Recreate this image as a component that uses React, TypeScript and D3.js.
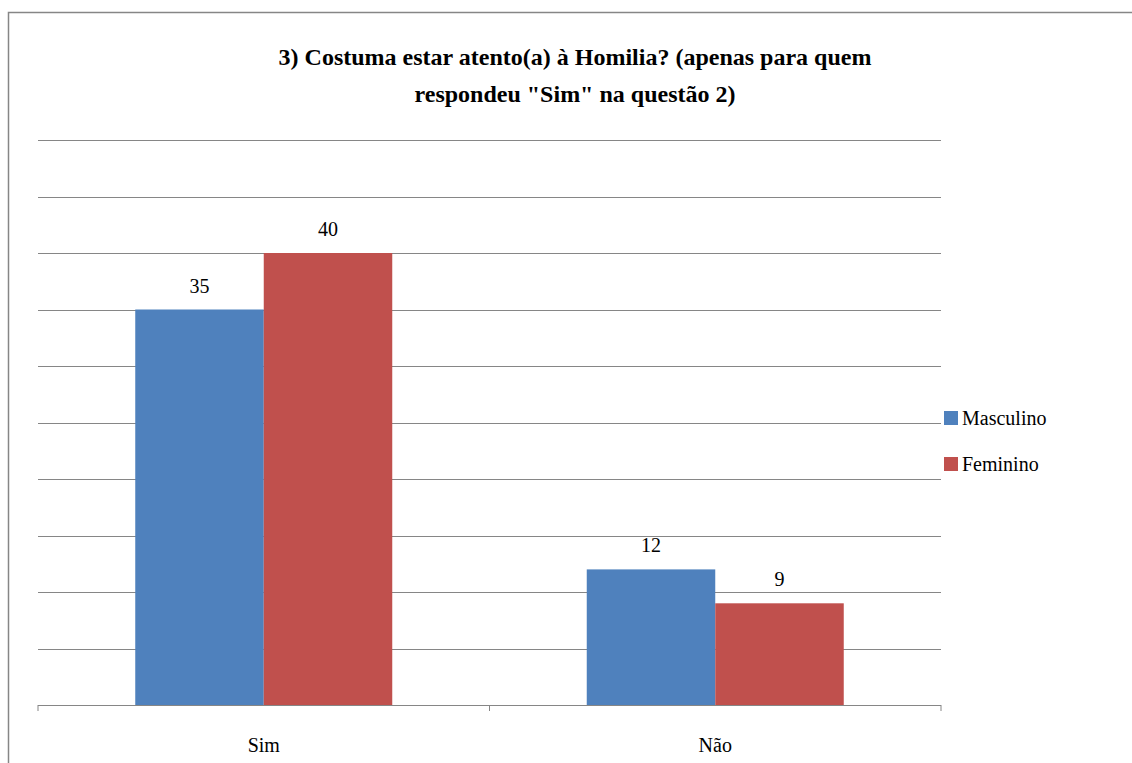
import React from "react";
import * as d3 from "d3";

const categories = ["Sim", "Não"];
const seriesNames = ["Masculino", "Feminino"];
const masculino = [35, 12];
const feminino = [40, 9];
const gridTicks = [0, 5, 10, 15, 20, 25, 30, 35, 40, 45, 50];
const colors = ["#4F81BD", "#C0504D"];
const titleLines = ["3) Costuma estar atento(a) à Homilia? (apenas para quem", 'respondeu "Sim" na questão 2)'];

const W = 1132;
const H = 763;
const plot = { left: 38, right: 941, top: 140, bottom: 705 };

export default function App() {
  const x = d3.scaleBand<string>().domain(categories).range([plot.left, plot.right]);
  const y = d3.scaleLinear().domain([0, 50]).range([plot.bottom, plot.top]);
  const values = [masculino, feminino];
  const barW = 128.5;
  const gridColor = "#868686";
  const ts = { fontFamily: '"Times New Roman"' };

  return (
    <div style={{ position: "absolute", left: 0, top: 0, width: W, height: H, fontFamily: '"Times New Roman"' }}>
      <style>{`svg text { font-family: "Times New Roman", "Liberation Serif", serif !important; }`}</style>
      <svg width={W} height={H} style={{ display: "block", background: "#fff" }}>
        <rect x={8.5} y={12.5} width={1140} height={800} fill="#fff" stroke={gridColor} strokeWidth={1.5} />
        {titleLines.map((t, i) => (
          <text key={i} x={575} y={65 + i * 37} textAnchor="middle" fontSize={24} fontWeight="bold" style={ts}>{t}</text>
        ))}
        {gridTicks.map((t) => (
          <line key={t} x1={plot.left} x2={plot.right} y1={Math.round(y(t)) + 0.5} y2={Math.round(y(t)) + 0.5} stroke={gridColor} strokeWidth={1} />
        ))}
        {[...categories.map((c) => x(c) as number), plot.right].map((px, i) => (
          <line key={"t" + i} x1={px} x2={px} y1={y(0)} y2={y(0) + 6} stroke={gridColor} strokeWidth={1} />
        ))}
        {categories.map((c, ci) => {
          const cx = (x(c) as number) + x.bandwidth() / 2;
          return (
            <g key={c}>
              {values.map((vals, si) => {
                const bx = cx - barW + si * barW;
                const v = vals[ci];
                return (
                  <g key={si}>
                    <rect x={bx} y={y(v)} width={barW} height={y(0) - y(v)} fill={colors[si]} />
                    <text x={bx + barW / 2} y={y(v) - 17} textAnchor="middle" fontSize={20} style={ts}>{v}</text>
                  </g>
                );
              })}
              <text x={cx} y={752} textAnchor="middle" fontSize={20} style={ts}>{c}</text>
            </g>
          );
        })}
        {seriesNames.map((s, i) => (
          <g key={s}>
            <rect x={944} y={411 + i * 46} width={14} height={14} fill={colors[i]} />
            <text x={962} y={425 + i * 46} fontSize={20} style={ts}>{s}</text>
          </g>
        ))}
      </svg>
    </div>
  );
}
